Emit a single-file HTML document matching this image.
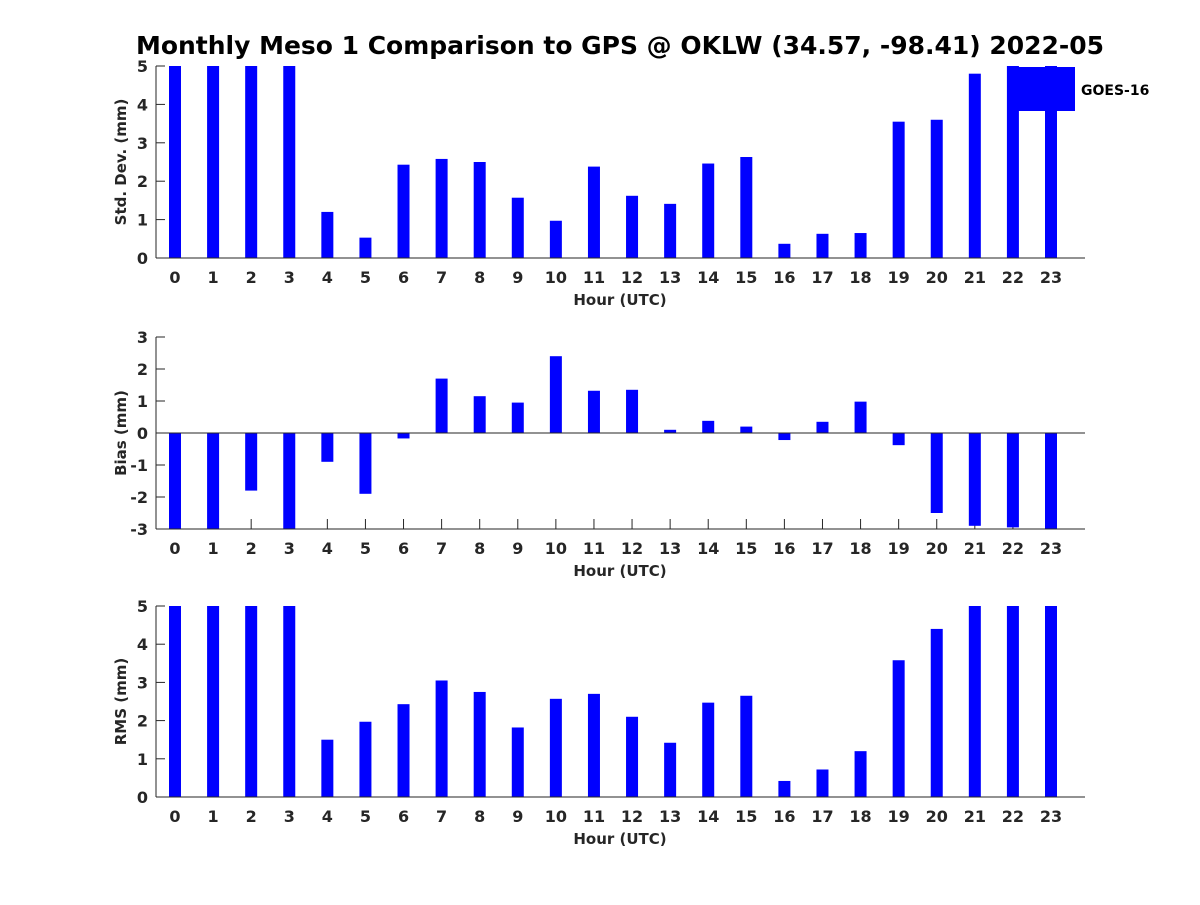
<!DOCTYPE html>
<html><head><meta charset="utf-8"><style>
body{margin:0;background:#fff;}
svg text{font-family:"DejaVu Sans","Liberation Sans",sans-serif;font-weight:bold;}
</style></head><body>
<svg id="chart" width="1200" height="900" xmlns="http://www.w3.org/2000/svg">
<rect width="1200" height="900" fill="#fff"/>
<text x="620" y="54" font-size="25" text-anchor="middle" fill="#000" textLength="968" lengthAdjust="spacingAndGlyphs">Monthly Meso 1 Comparison to GPS @ OKLW (34.57, -98.41) 2022-05</text>
<g id="plots"></g>
<rect x="1007" y="67" width="68" height="44" fill="#0000ff"/>
<text x="1081" y="95" font-size="14" fill="#000">GOES-16</text>
</svg>
<script>
const hours = [0,1,2,3,4,5,6,7,8,9,10,11,12,13,14,15,16,17,18,19,20,21,22,23];
const stdValues = [5,5,5,5,1.2,0.53,2.43,2.58,2.5,1.57,0.97,2.38,1.62,1.41,2.46,2.63,0.37,0.63,0.65,3.55,3.6,4.8,5,5];
const biasValues = [-3,-3,-1.8,-3,-0.9,-1.9,-0.17,1.7,1.15,0.95,2.4,1.32,1.35,0.1,0.38,0.2,-0.22,0.35,0.98,-0.38,-2.5,-2.9,-2.95,-3];
const rmsValues = [5,5,5,5,1.5,1.97,2.43,3.05,2.75,1.82,2.57,2.7,2.1,1.42,2.47,2.65,0.42,0.72,1.2,3.58,4.4,5,5,5];
const stdTicks = [0,1,2,3,4,5];
const biasTicks = [-3,-2,-1,0,1,2,3];
const rmsTicks = [0,1,2,3,4,5];

const NS = "http://www.w3.org/2000/svg";
const root = document.getElementById('plots');
function mk(tag, attrs, parent){const e=document.createElementNS(NS,tag);for(const k in attrs)e.setAttribute(k,attrs[k]);(parent||root).appendChild(e);return e;}
const X0 = 156, X1 = 1085;
function xs(h){return 175 + h*(1051-175)/23;}
function panel(name, vals, ticks, ymin, ymax, top, bottom, ylabel){
  const g = mk('g',{});
  
  
  const ys = v => bottom - (v-ymin)/(ymax-ymin)*(bottom-top);
  const base = ys(Math.max(ymin, Math.min(ymax, 0)));
  hours.forEach(h=>{
    mk('line',{x1:xs(h),y1:bottom,x2:xs(h),y2:bottom-10,stroke:'#262626'},g);
  });
  vals.forEach((v,i)=>{
    const vv = Math.max(ymin, Math.min(ymax, v));
    const y1 = Math.min(ys(vv), base), y2 = Math.max(ys(vv), base);
    const r = mk('rect',{x:xs(hours[i])-6,y:y1,width:12,height:y2-y1,fill:'#0000ff'},g);
    
    
  });
  mk('line',{x1:X0,y1:top,x2:X0,y2:bottom,stroke:'#262626','stroke-width':1},g);
  mk('line',{x1:X0,y1:bottom,x2:X1,y2:bottom,stroke:'#262626','stroke-width':1},g);
  if (ymin < 0) mk('line',{x1:X0,y1:base,x2:X1,y2:base,stroke:'#262626','stroke-width':1},g);
  ticks.forEach(t=>{
    mk('line',{x1:X0,y1:ys(t),x2:X0+9,y2:ys(t),stroke:'#262626'},g);
    const tx = mk('text',{x:X0-8,y:ys(t)+6,'font-size':16,'text-anchor':'end',fill:'#262626'},g);
    tx.textContent = t;
    
    
  });
  hours.forEach(h=>{
    const tx = mk('text',{x:xs(h),y:bottom+25,'font-size':16,'text-anchor':'middle',fill:'#262626'},g);
    tx.textContent = h;
    
    
  });
  const xl = mk('text',{x:620,y:bottom+47,'font-size':15,'text-anchor':'middle',fill:'#262626'},g);
  xl.textContent = 'Hour (UTC)';
  
  
  const cy = (top+bottom)/2;
  const yl = mk('text',{x:126,y:cy,'font-size':15,'text-anchor':'middle',fill:'#262626',transform:'rotate(-90 126 '+cy+')'},g);
  yl.textContent = ylabel;
  
  
}
panel('std-dev', stdValues, stdTicks, 0, 5, 66, 258, 'Std. Dev. (mm)');
panel('bias', biasValues, biasTicks, -3, 3, 337, 529, 'Bias (mm)');
panel('rms', rmsValues, rmsTicks, 0, 5, 606, 797, 'RMS (mm)');
</script>
</body></html>
